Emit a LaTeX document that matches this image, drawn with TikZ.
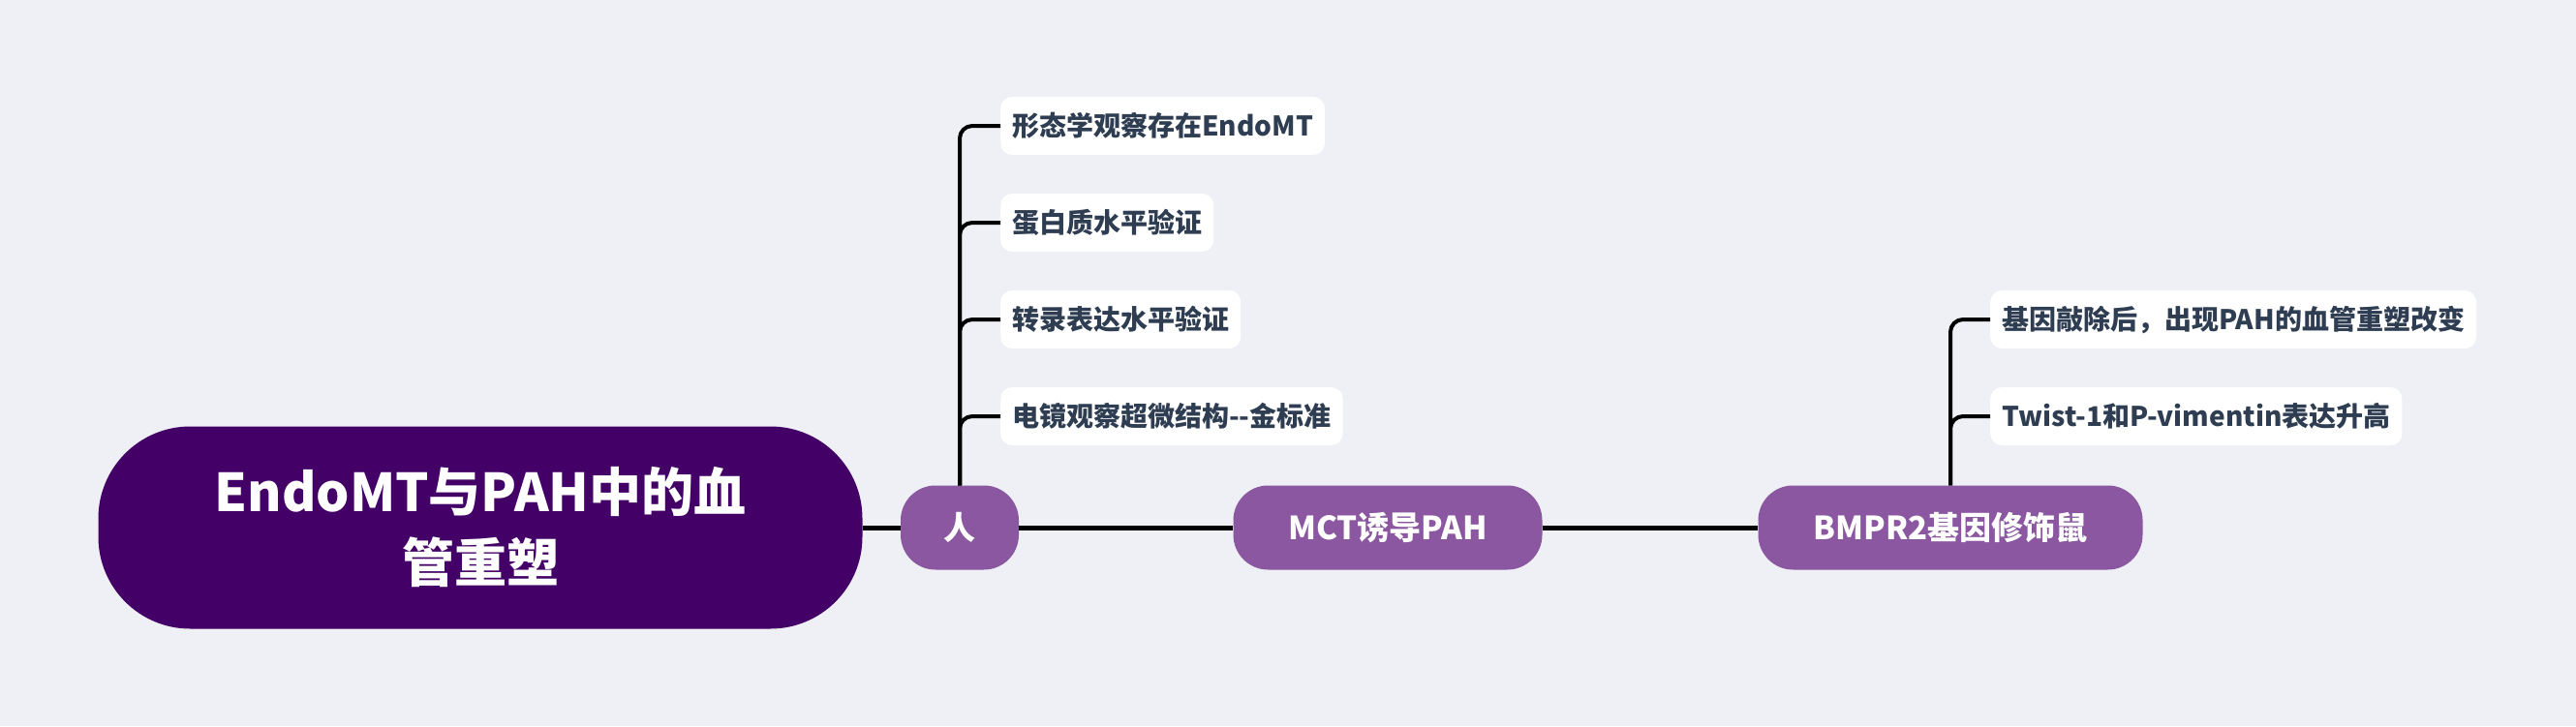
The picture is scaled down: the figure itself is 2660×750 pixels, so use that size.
\documentclass[tikz,border=0pt]{standalone}
\usepackage{fontspec}
\setmainfont{Noto Sans CJK SC}
\definecolor{bgc}{HTML}{EEF0F5}
\definecolor{rootc}{HTML}{430066}
\definecolor{midc}{HTML}{8A57A0}
\definecolor{leaftext}{HTML}{2E3D52}
\tikzset{
  rootbox/.style={fill=rootc, text=white, rounded corners=95pt, minimum width=789pt, minimum height=209pt, align=center, font=\fontsize{54}{73}\selectfont\bfseries, inner sep=0pt},
  midbox/.style={fill=midc, text=white, rounded corners=36pt, minimum height=87pt, inner xsep=0pt, inner ysep=0pt, font=\fontsize{33}{38}\selectfont\bfseries},
  leafbox/.style={fill=white, text=leaftext, rounded corners=12pt, minimum height=60pt, inner xsep=12pt, inner ysep=0pt, anchor=west, font=\fontsize{28}{32}\selectfont\bfseries},
  mainline/.style={line width=5pt, black},
  branchline/.style={line width=4pt, black, rounded corners=13pt}
}
\begin{document}
\begin{tikzpicture}[x=1pt,y=-1pt]
\fill[bgc] (0,0) rectangle (2660,750);
\useasboundingbox (0,0) rectangle (2660,750);

\node[rootbox] (root) at (496,545) {EndoMT与PAH中的血\\管重塑};
\node[midbox, minimum width=122pt] (ren) at (991,545) {人};
\node[midbox, minimum width=319pt] (mct) at (1433,545) {MCT诱导PAH};
\node[midbox, minimum width=397pt] (bmpr) at (2014,545) {BMPR2基因修饰鼠};

\node[leafbox] (a1) at (1033,130) {形态学观察存在EndoMT};
\node[leafbox] (a2) at (1033,230) {蛋白质水平验证};
\node[leafbox] (a3) at (1033,330) {转录表达水平验证};
\node[leafbox] (a4) at (1033,430) {电镜观察超微结构-{}-金标准};

\node[leafbox] (c1) at (2055,330) {基因敲除后，出现PAH的血管重塑改变};
\node[leafbox] (c2) at (2055,430) {Twist-1和P-vimentin表达升高};

\draw[mainline] (root.east) -- (ren.west);
\draw[mainline] (ren.east) -- (mct.west);
\draw[mainline] (mct.east) -- (bmpr.west);

\foreach \t in {a1,a2,a3,a4}
  \draw[branchline] (ren.north) |- (\t.west);
\foreach \t in {c1,c2}
  \draw[branchline] (bmpr.north) |- (\t.west);
\end{tikzpicture}
\end{document}
